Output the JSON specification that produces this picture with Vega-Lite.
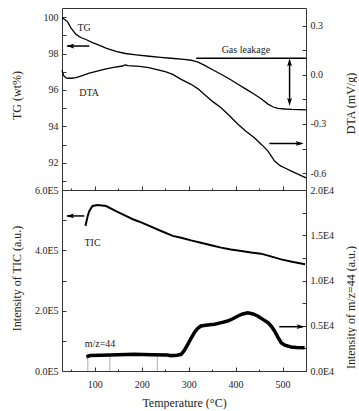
{
  "$schema": "https://vega.github.io/schema/vega-lite/v6.json",
  "padding": {"left": 9, "top": 7, "right": 0, "bottom": 0},
  "background": "white",
  "spacing": 0,
  "bounds": "flush",
  "config": {
    "font": "Liberation Serif",
    "view": {"stroke": "#333", "strokeWidth": 1},
    "axis": {
      "labelFont": "Liberation Serif", "titleFont": "Liberation Serif",
      "labelFontSize": 10, "titleFontSize": 12, "titleFontWeight": "normal",
      "labelColor": "#222", "titleColor": "#222", "tickColor": "#333", "tickWidth": 1,
      "grid": false, "domain": false, "labelPadding": 4, "labelOverlap": false, "labelFlush": false, "tickSize": 4
    },
    "text": {"font": "Liberation Serif", "fontSize": 10, "color": "#222"}
  },
  "datasets": {
    "tg": [
      {"T": 30, "v": 99.96}, {"T": 35, "v": 99.88}, {"T": 42, "v": 99.74}, {"T": 49, "v": 99.41},
      {"T": 55, "v": 99.2}, {"T": 60, "v": 99.05}, {"T": 70, "v": 98.88}, {"T": 81, "v": 98.77},
      {"T": 95, "v": 98.6}, {"T": 110, "v": 98.45}, {"T": 125, "v": 98.28}, {"T": 145, "v": 98.12},
      {"T": 165, "v": 98.0}, {"T": 188, "v": 97.93}, {"T": 216, "v": 97.85}, {"T": 240, "v": 97.79},
      {"T": 262, "v": 97.74}, {"T": 290, "v": 97.68}, {"T": 305, "v": 97.63}, {"T": 320, "v": 97.53},
      {"T": 333, "v": 97.36}, {"T": 350, "v": 97.12}, {"T": 369, "v": 96.86}, {"T": 387, "v": 96.6},
      {"T": 405, "v": 96.31}, {"T": 422, "v": 96.04}, {"T": 440, "v": 95.76}, {"T": 455, "v": 95.5},
      {"T": 469, "v": 95.22}, {"T": 480, "v": 95.06}, {"T": 490, "v": 94.98}, {"T": 505, "v": 94.95},
      {"T": 520, "v": 94.93}, {"T": 535, "v": 94.92}, {"T": 550, "v": 94.9}
    ],
    "dta": [
      {"T": 30, "v": 0.03}, {"T": 31.5, "v": 0.014}, {"T": 34, "v": -0.006}, {"T": 38, "v": -0.016},
      {"T": 42, "v": -0.02}, {"T": 50, "v": -0.02}, {"T": 60, "v": -0.016}, {"T": 75, "v": -0.002},
      {"T": 88, "v": 0.011}, {"T": 105, "v": 0.024}, {"T": 124, "v": 0.037}, {"T": 140, "v": 0.047},
      {"T": 159, "v": 0.055}, {"T": 163, "v": 0.06}, {"T": 166, "v": 0.062}, {"T": 170, "v": 0.057},
      {"T": 195, "v": 0.053}, {"T": 215, "v": 0.045}, {"T": 230, "v": 0.035}, {"T": 250, "v": 0.02},
      {"T": 266, "v": 0.004}, {"T": 284, "v": -0.027}, {"T": 305, "v": -0.057}, {"T": 320, "v": -0.085},
      {"T": 333, "v": -0.118}, {"T": 350, "v": -0.16}, {"T": 369, "v": -0.2}, {"T": 387, "v": -0.25},
      {"T": 405, "v": -0.302}, {"T": 422, "v": -0.345}, {"T": 440, "v": -0.384}, {"T": 455, "v": -0.425},
      {"T": 469, "v": -0.466}, {"T": 483, "v": -0.527}, {"T": 495, "v": -0.555}, {"T": 504, "v": -0.568},
      {"T": 520, "v": -0.59}, {"T": 535, "v": -0.61}, {"T": 550, "v": -0.63}
    ],
    "tic": [
      {"T": 80, "v": 481000}, {"T": 82, "v": 495000}, {"T": 85, "v": 515000}, {"T": 88, "v": 530000},
      {"T": 95, "v": 547000}, {"T": 106, "v": 550000}, {"T": 124, "v": 547000}, {"T": 145, "v": 530000},
      {"T": 165, "v": 515000}, {"T": 181, "v": 503000}, {"T": 200, "v": 492000}, {"T": 216, "v": 481000},
      {"T": 240, "v": 465000}, {"T": 266, "v": 448000}, {"T": 284, "v": 442000}, {"T": 305, "v": 433000},
      {"T": 326, "v": 425000}, {"T": 350, "v": 416000}, {"T": 369, "v": 409000}, {"T": 390, "v": 403000},
      {"T": 412, "v": 398000}, {"T": 433, "v": 393000}, {"T": 454, "v": 389000}, {"T": 475, "v": 380000},
      {"T": 497, "v": 370000}, {"T": 520, "v": 362000}, {"T": 548, "v": 354000}
    ],
    "mz": [
      {"T": 82, "v": 1580}, {"T": 90, "v": 1700}, {"T": 113, "v": 1735}, {"T": 150, "v": 1800},
      {"T": 184, "v": 1845}, {"T": 220, "v": 1800}, {"T": 255, "v": 1768}, {"T": 262, "v": 1700},
      {"T": 275, "v": 1750}, {"T": 284, "v": 1845}, {"T": 291, "v": 2300}, {"T": 298, "v": 2950},
      {"T": 305, "v": 3600}, {"T": 312, "v": 4232}, {"T": 319, "v": 4700}, {"T": 326, "v": 4972},
      {"T": 340, "v": 5080}, {"T": 355, "v": 5160}, {"T": 370, "v": 5350}, {"T": 383, "v": 5525},
      {"T": 395, "v": 5800}, {"T": 405, "v": 6077}, {"T": 415, "v": 6300}, {"T": 426, "v": 6440},
      {"T": 437, "v": 6300}, {"T": 447, "v": 6077}, {"T": 458, "v": 5700}, {"T": 469, "v": 5340},
      {"T": 476, "v": 4950}, {"T": 483, "v": 4420}, {"T": 490, "v": 3750}, {"T": 497, "v": 3130},
      {"T": 505, "v": 2850}, {"T": 518, "v": 2650}, {"T": 530, "v": 2600}, {"T": 547, "v": 2575}
    ]
  },
  "vconcat": [
    {
      "width": 244, "height": 182,
      "layer": [
        {
          "encoding": {
            "x": {"field": "T", "type": "quantitative", "scale": {"domain": [30, 550], "nice": false, "zero": false},
                  "axis": {"orient": "bottom", "values": [100, 200, 300, 400, 500], "labels": false, "title": null, "tickSize": 4, "offset": -4}},
            "y": {"field": "v", "type": "quantitative", "scale": {"domain": [90.5, 100.5], "nice": false, "zero": false},
                  "axis": {"orient": "left", "values": [91, 92, 93, 94, 95, 96, 97, 98, 99, 100],
                           "labelExpr": "datum.value % 2 == 0 ? datum.label : ''",
                           "tickSize": 4, "offset": -4, "labelPadding": 4,
                           "title": "TG (wt%)", "titleX": -50, "titleY": 87, "titleBaseline": "middle", "titleAngle": 270}}
          },
          "layer": [
            {"data": {"name": "tg"}, "mark": {"type": "line", "color": "black", "strokeWidth": 1.3}},
            {"data": {"values": [
                {"T": 88, "v": 98.41, "T2": 41, "v2": 98.41},
                {"T": 316, "v": 97.74, "T2": 550, "v2": 97.74},
                {"T": 515, "v": 97.5, "T2": 515, "v2": 95.4},
                {"T": 472, "v": 93.06, "T2": 540, "v2": 93.06}
              ]},
             "mark": {"type": "rule", "color": "black", "strokeWidth": 1.5},
             "encoding": {"x2": {"field": "T2"}, "y2": {"field": "v2"}}},
            {"data": {"values": [
                {"T": 39, "v": 98.41, "dir": "left"},
                {"T": 515, "v": 97.74, "dir": "up"},
                {"T": 515, "v": 95.12, "dir": "down"},
                {"T": 545, "v": 93.06, "dir": "right"}
              ]},
             "mark": {"type": "point", "filled": true, "color": "black", "opacity": 1, "size": 64, "strokeWidth": 0},
             "encoding": {"shape": {"field": "dir", "type": "nominal", "legend": null,
               "scale": {"domain": ["left", "right", "up", "down"],
                         "range": ["M0,0L2,-0.6L1.6,0L2,0.6Z", "M0,0L-2,-0.6L-1.6,0L-2,0.6Z", "M0,0L-0.6,2L0,1.6L0.6,2Z", "M0,0L-0.6,-2L0,-1.6L0.6,-2Z"]}}}},
            {"data": {"values": [
                {"T": 77, "v": 99.4, "label": "TG"},
                {"T": 88, "v": 95.82, "label": "DTA"},
                {"T": 422, "v": 98.17, "label": "Gas leakage"}
              ]},
             "mark": {"type": "text", "font": "Liberation Serif"},
             "encoding": {"text": {"field": "label"}}}
          ]
        },
        {
          "data": {"name": "dta"},
          "mark": {"type": "line", "color": "black", "strokeWidth": 1.3},
          "encoding": {
            "x": {"field": "T", "type": "quantitative", "scale": {"domain": [30, 550], "nice": false, "zero": false},
                  "axis": {"orient": "bottom", "values": [50, 150, 250, 350, 450], "labels": false, "title": null, "tickSize": 2, "offset": -2}},
            "y": {"field": "v", "type": "quantitative", "scale": {"domain": [-0.704, 0.41], "nice": false, "zero": false},
                  "axis": {"orient": "right", "values": [-0.6, -0.45, -0.3, -0.15, 0, 0.15, 0.3],
                           "labelExpr": "abs(round(datum.value / 0.15)) % 2 == 0 ? (datum.value < -0.01 ? '-' : '') + format(abs(datum.value), '.1f') : ''",
                           "tickSize": 4, "offset": -4, "labelPadding": 4,
                           "title": "DTA (mV/g)", "titleX": 48, "titleY": 95, "titleBaseline": "middle", "titleAngle": 270}}
          }
        }
      ],
      "resolve": {"scale": {"y": "independent"}, "axis": {"x": "independent"}}
    },
    {
      "width": 244, "height": 181,
      "layer": [
        {
          "encoding": {
            "x": {"field": "T", "type": "quantitative", "scale": {"domain": [30, 550], "nice": false, "zero": false},
                  "axis": {"orient": "bottom", "values": [100, 200, 300, 400, 500], "tickSize": 4, "offset": -4,
                           "labelPadding": 8, "title": "Temperature (°C)", "titlePadding": 8}},
            "y": {"field": "v", "type": "quantitative", "scale": {"domain": [0, 600000], "nice": false, "zero": false},
                  "axis": {"orient": "left", "values": [0, 100000, 200000, 300000, 400000, 500000, 600000],
                           "labelExpr": "round(datum.value / 100000) % 2 == 0 ? format(datum.value / 100000, '.1f') + 'E5' : ''",
                           "tickSize": 4, "offset": -4, "labelPadding": 4,
                           "title": "Intensity of TIC (a.u.)", "titleX": -50, "titleY": 88, "titleBaseline": "middle", "titleAngle": 270}}
          },
          "layer": [
            {"data": {"name": "tic"}, "mark": {"type": "line", "color": "black", "strokeWidth": 2}},
            {"data": {"values": [
                {"T": 85, "v": 0, "T2": 85, "v2": 51000},
                {"T": 132, "v": 0, "T2": 132, "v2": 51000},
                {"T": 233, "v": 0, "T2": 233, "v2": 51000}
              ]},
             "mark": {"type": "rule", "color": "#999", "strokeWidth": 0.8},
             "encoding": {"x2": {"field": "T2"}, "y2": {"field": "v2"}}},
            {"data": {"values": [
                {"T": 77.5, "v": 514000, "T2": 41, "v2": 514000},
                {"T": 493, "v": 146800, "T2": 543, "v2": 146800}
              ]},
             "mark": {"type": "rule", "color": "black", "strokeWidth": 1.5},
             "encoding": {"x2": {"field": "T2"}, "y2": {"field": "v2"}}},
            {"data": {"values": [
                {"T": 38.5, "v": 514000, "dir": "left"},
                {"T": 547, "v": 146800, "dir": "right"}
              ]},
             "mark": {"type": "point", "filled": true, "color": "black", "opacity": 1, "size": 64, "strokeWidth": 0},
             "encoding": {"shape": {"field": "dir", "type": "nominal", "legend": null,
               "scale": {"domain": ["left", "right", "up", "down"],
                         "range": ["M0,0L2,-0.6L1.6,0L2,0.6Z", "M0,0L-2,-0.6L-1.6,0L-2,0.6Z", "M0,0L-0.6,2L0,1.6L0.6,2Z", "M0,0L-0.6,-2L0,-1.6L0.6,-2Z"]}}}},
            {"data": {"values": [
                {"T": 95, "v": 425000, "label": "TIC"},
                {"T": 111, "v": 88500, "label": "m/z=44"}
              ]},
             "mark": {"type": "text", "font": "Liberation Serif"},
             "encoding": {"text": {"field": "label"}}}
          ]
        },
        {
          "data": {"name": "mz"},
          "mark": {"type": "line", "color": "black", "strokeWidth": 3.5},
          "encoding": {
            "x": {"field": "T", "type": "quantitative", "scale": {"domain": [30, 550], "nice": false, "zero": false},
                  "axis": {"orient": "bottom", "values": [50, 150, 250, 350, 450], "labels": false, "title": null, "tickSize": 2, "offset": -2}},
            "y": {"field": "v", "type": "quantitative", "scale": {"domain": [0, 20000], "nice": false, "zero": false},
                  "axis": {"orient": "right", "values": [0, 2500, 5000, 7500, 10000, 12500, 15000, 17500, 20000],
                           "labelExpr": "round(datum.value / 2500) % 2 == 0 ? format(datum.value / 10000, '.1f') + 'E4' : ''",
                           "tickSize": 4, "offset": -4, "labelPadding": 4,
                           "title": "Intensity of m/z=44 (a.u.)", "titleX": 48, "titleY": 117, "titleBaseline": "middle", "titleAngle": 270}}
          }
        }
      ],
      "resolve": {"scale": {"y": "independent"}, "axis": {"x": "independent"}}
    }
  ]
}
